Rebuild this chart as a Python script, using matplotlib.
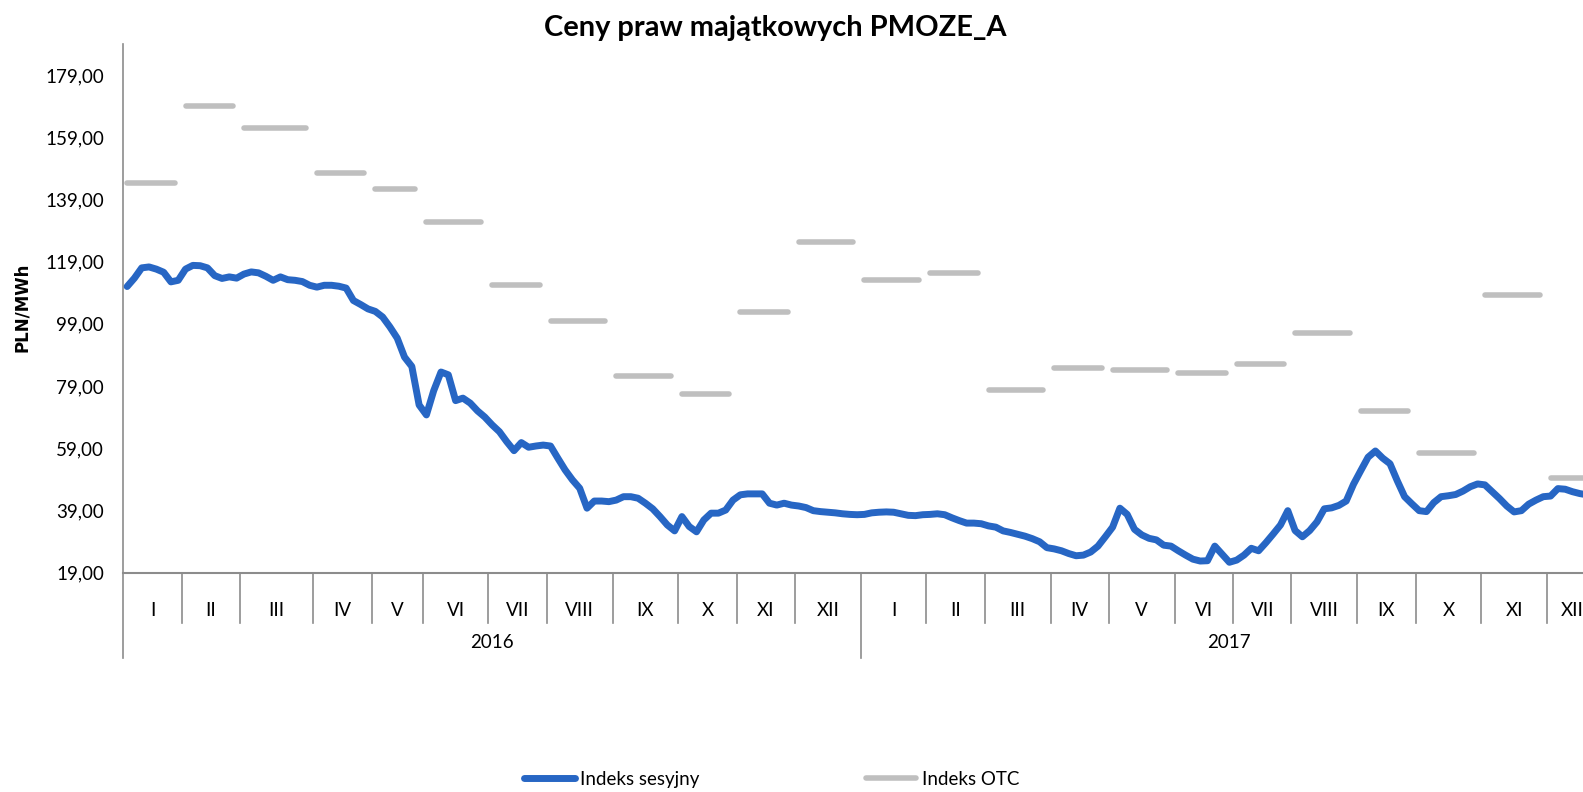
import numpy as np
import matplotlib
matplotlib.use('Agg')
import matplotlib.pyplot as plt
from matplotlib.lines import Line2D

plt.rcParams['font.family'] = ['Lato', 'DejaVu Sans']

# months and number of sessions in each month (category widths)
months = ['I', 'II', 'III', 'IV', 'V', 'VI', 'VII', 'VIII', 'IX', 'X', 'XI', 'XII']
years = ['2016', '2017']
sessions_2016 = [8, 8, 10, 8, 7, 9, 8, 9, 9, 8, 8, 9]
sessions_2017 = [9, 8, 9, 8, 9, 8, 8, 9, 8, 9, 9, 7]

# Indeks sesyjny, PLN/MWh
sesyjny_2016 = [
    111.0, 113.7, 117.0, 117.3, 116.6, 115.6, 112.5, 113.0,
    116.6, 117.8, 117.7, 117.0, 114.5, 113.6, 114.1, 113.7,
    115.0, 115.7, 115.4, 114.3, 113.0, 114.1, 113.2, 113.0, 112.6, 111.4,
    110.8, 111.4, 111.4, 111.1, 110.5, 106.5, 105.2, 103.8,
    103.0, 101.2, 98.0, 94.4, 88.3, 85.3, 72.9,
    69.7, 77.5, 83.5, 82.6, 74.3, 75.1, 73.5, 71.0, 69.0,
    66.5, 64.3, 61.1, 58.2, 60.8, 59.3, 59.7, 60.0,
    59.7, 55.8, 52.0, 48.8, 46.1, 39.7, 42.0, 42.0, 41.8,
    42.3, 43.4, 43.4, 42.9, 41.3, 39.5, 37.0, 34.3, 32.4,
    37.0, 33.8, 32.1, 35.9, 38.1, 38.1, 39.1, 42.3,
    44.0, 44.3, 44.3, 44.3, 41.3, 40.7, 41.3, 40.7,
    40.4, 39.9, 38.9, 38.6, 38.4, 38.2, 37.9, 37.7, 37.6,
]
sesyjny_2017 = [
    37.7, 38.2, 38.4, 38.5, 38.4, 37.9, 37.4, 37.3, 37.6,
    37.7, 37.9, 37.6, 36.6, 35.7, 34.9, 34.9, 34.7,
    34.0, 33.6, 32.4, 31.9, 31.3, 30.7, 29.9, 28.9, 27.0,
    26.6, 26.0, 25.1, 24.4, 24.6, 25.6, 27.5, 30.5,
    33.6, 39.7, 37.7, 32.9, 31.1, 30.0, 29.5, 27.8, 27.5,
    26.0, 24.6, 23.3, 22.7, 22.8, 27.5, 24.9, 22.3,
    23.0, 24.6, 26.8, 26.0, 28.6, 31.4, 34.3, 38.9,
    32.5, 30.5, 32.5, 35.3, 39.5, 39.8, 40.6, 42.0, 47.4,
    51.8, 56.1, 58.1, 55.8, 54.0, 48.5, 43.4, 41.1,
    38.9, 38.6, 41.5, 43.4, 43.7, 44.1, 45.2, 46.6, 47.5,
    47.2, 45.0, 42.8, 40.4, 38.5, 38.9, 41.0, 42.3, 43.4,
    43.6, 46.0, 45.8, 45.0, 44.4, 44.0,
]

# Indeks OTC, monthly values
otc_2016 = [144.4, 169.1, 161.9, 147.4, 142.4, 131.9, 111.5, 99.9, 82.1, 76.5, 102.8, 125.2]
otc_2017 = [113.2, 115.2, 77.6, 84.8, 84.0, 83.2, 86.2, 95.9, 70.8, 57.6, 108.4, 49.4]

blue = '#2766C4'
grey = '#BFBFBF'
axis_col = '#8C8C8C'

counts = sessions_2016 + sessions_2017
starts = np.concatenate([[0], np.cumsum(counts)[:-1]])
total = sum(counts)
sesyjny = np.array(sesyjny_2016 + sesyjny_2017)
otc = otc_2016 + otc_2017

fig = plt.figure(figsize=(15.83, 7.92), dpi=100)
ax = fig.add_axes([0.078, 0.2771, 0.9315, 0.6673])

ax.plot(np.arange(len(sesyjny)), sesyjny, color=blue, lw=5.0,
        solid_joinstyle='round', solid_capstyle='round', zorder=3)
for s, n, v in zip(starts, counts, otc):
    ax.plot([s, s + n - 1.5], [v, v], color=grey, lw=4.0,
            solid_capstyle='round', zorder=2)

ax.set_xlim(-0.5, total - 0.5)
ax.set_ylim(19, 189)
ax.set_yticks(np.arange(19, 180, 20))
ax.set_yticklabels([f'{v:.2f}'.replace('.', ',') for v in np.arange(19, 180, 20)],
                   fontsize=13.5)
ax.tick_params(axis='y', length=0, pad=14)
ax.set_xticks([])
for side in ['top', 'right', 'left']:
    ax.spines[side].set_visible(False)
ax.spines['bottom'].set_color(axis_col)
ax.spines['bottom'].set_linewidth(1.5)

# vertical axis line, running down through the category rows
tr = ax.get_xaxis_transform()
ax.plot([-0.5, -0.5], [-0.1618, 1], transform=tr, color=axis_col, lw=1.2, clip_on=False)

# month / year separators and labels
for k, (s, n) in enumerate(zip(starts, counts)):
    if k > 0:
        bottom = -0.1618 if k % 12 == 0 else -0.0955
        ax.plot([s - 0.5, s - 0.5], [0, bottom], transform=tr, color=axis_col,
                lw=1.2, clip_on=False)
    ax.text(s + n / 2 - 0.5, -0.071, months[k % 12], transform=tr,
            ha='center', va='center', fontsize=13.5)
for j, yr in enumerate(years):
    s = starts[j * 12]
    e = starts[j * 12 + 11] + counts[j * 12 + 11]
    ax.text((s + e) / 2 - 0.5, -0.1315, yr, transform=tr,
            ha='center', va='center', fontsize=13.5)

fig.text(0.4896, 0.9646, 'Ceny praw majątkowych PMOZE_A', ha='center', va='center',
         fontsize=20.9, fontweight='bold')
fig.text(0.0139, 0.6124, 'PLN/MWh', rotation=90, ha='center', va='center',
         fontsize=12, fontweight='bold', fontfamily='DejaVu Sans')

handles = [Line2D([], [], color=blue, lw=5.0, solid_capstyle='round'),
           Line2D([], [], color=grey, lw=4.0, solid_capstyle='round')]
fig.legend(handles, ['Indeks sesyjny', 'Indeks OTC'], ncol=2, loc='center',
           bbox_to_anchor=(0.4874, 0.016), frameon=False, fontsize=13.5,
           handlelength=2.7, handletextpad=0.3, columnspacing=8.85, borderpad=0)

fig.savefig('out.png', dpi=100)
